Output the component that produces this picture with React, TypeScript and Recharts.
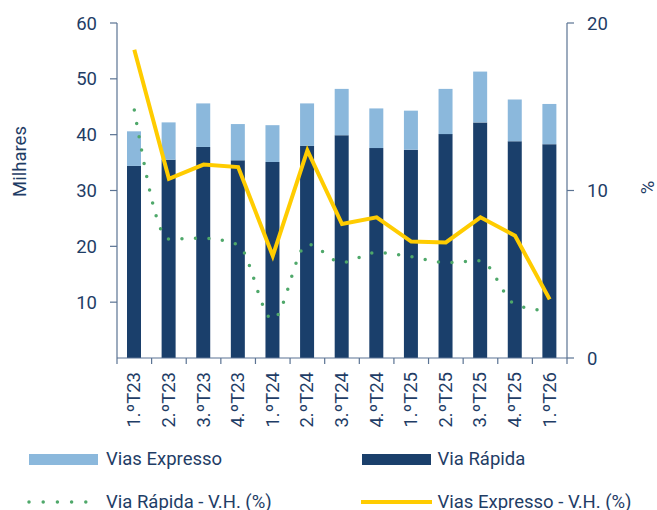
import React from 'react';
import { ComposedChart, Bar, Line, XAxis, YAxis } from 'recharts';

const quarters = ['1.ºT23', '2.ºT23', '3.ºT23', '4.ºT23', '1.ºT24', '2.ºT24', '3.ºT24', '4.ºT24', '1.ºT25', '2.ºT25', '3.ºT25', '4.ºT25', '1.ºT26'];
// milhares
const viaRapida = [34.4, 35.5, 37.8, 35.4, 35.1, 38.0, 39.9, 37.6, 37.3, 40.1, 42.2, 38.8, 38.3];
const viasExpresso = [6.2, 6.7, 7.8, 6.5, 6.6, 7.6, 8.3, 7.1, 7.0, 8.1, 9.1, 7.5, 7.2];
// variação homóloga (%)
const viaRapidaVH = [14.8, 7.1, 7.15, 6.75, 2.3, 6.8, 5.7, 6.3, 6.05, 5.7, 5.8, 3.2, 2.8];
const viasExpressoVH = [18.4, 10.7, 11.55, 11.4, 6.1, 12.4, 8.0, 8.4, 6.95, 6.9, 8.4, 7.3, 3.5];

const leftTicks = [10, 20, 30, 40, 50, 60];
const rightTicks = [0, 10, 20];

const data = quarters.map((q, i) => ({
  q,
  rapida: viaRapida[i],
  expresso: viasExpresso[i],
  rapidaVH: viaRapidaVH[i],
  expressoVH: viasExpressoVH[i],
}));

const TEXT = '#1f3d66';
const AXIS = '#5b7393';
const DARK = '#1a3f6b';
const LIGHT = '#8bb8dc';
const YELLOW = '#ffcc00';
const GREEN = '#4fa86a';
const FONT = 'Roboto, sans-serif';
const FS = 18.5;

const QuarterTick = (props: any) => {
  const { x, y, payload, index } = props;
  const half = payload.offset || 17.3;
  return (
    <g>
      <line x1={x - half} x2={x - half} y1={y} y2={y + 6} stroke={AXIS} strokeWidth={1.2} />
      {index === quarters.length - 1 && (
        <line x1={x + half} x2={x + half} y1={y} y2={y + 6} stroke={AXIS} strokeWidth={1.2} />
      )}
      <text
        x={x}
        y={y + 14}
        transform={`rotate(-90, ${x}, ${y + 14})`}
        textAnchor="end"
        dominantBaseline="central"
        fill={TEXT}
        fontSize={FS}
        fontFamily={FONT}
      >
        {payload.value}
      </text>
    </g>
  );
};

const Swatch = ({ kind, color }: { kind: string; color: string }) => {
  if (kind === 'bar') return <div style={{ width: 69, height: 11, background: color }} />;
  return (
    <svg width={71} height={12}>
      {kind === 'dots' ? (
        <line x1={2} x2={62} y1={6} y2={6} stroke={color} strokeWidth={3.5} strokeDasharray="0 14.2" strokeLinecap="round" />
      ) : (
        <line x1={0} x2={71} y1={6} y2={6} stroke={color} strokeWidth={4} />
      )}
    </svg>
  );
};

const legendItems = [
  { label: 'Vias Expresso', kind: 'bar', color: LIGHT, left: 29, top: 459, gap: 8 },
  { label: 'Via Rápida', kind: 'bar', color: DARK, left: 362, top: 459, gap: 6.5 },
  { label: 'Via Rápida - V.H. (%)', kind: 'dots', color: GREEN, left: 27, top: 501.5, gap: 8 },
  { label: 'Vias Expresso - V.H. (%)', kind: 'line', color: YELLOW, left: 361, top: 501.5, gap: 5.5 },
];

export default function App() {
  return (
    <div style={{ position: 'absolute', left: 0, top: 0, width: 657, height: 510, background: '#fff', fontFamily: FONT }}>
      <ComposedChart width={657} height={440} data={data} margin={{ top: 23, right: 0, bottom: 0, left: 0 }} barSize={14}>
        <XAxis
          dataKey="q"
          height={82}
          interval={0}
          tickLine={false}
          tickSize={0}
          tickMargin={0}
          tick={<QuarterTick />}
          axisLine={{ stroke: AXIS, strokeWidth: 1.2 }}
        />
        <YAxis
          yAxisId="left"
          width={117}
          domain={[0, 60]}
          ticks={leftTicks}
          tickSize={7}
          tickMargin={13}
          tick={{ fill: TEXT, fontSize: FS, fontFamily: FONT }}
          tickLine={{ stroke: AXIS, strokeWidth: 1.2 }}
          axisLine={{ stroke: AXIS, strokeWidth: 1.2 }}
          label={{
            content: (p: any) => {
              const vb = p.viewBox;
              const cx = vb.x + 19.5;
              const cy = vb.y + vb.height / 2 - 29;
              return (
                <text x={cx} y={cy} transform={`rotate(-90, ${cx}, ${cy})`} textAnchor="middle" dominantBaseline="central" fill={TEXT} fontSize={FS} fontFamily={FONT}>
                  Milhares
                </text>
              );
            },
          }}
        />
        <YAxis
          yAxisId="right"
          orientation="right"
          width={90}
          domain={[0, 20]}
          ticks={rightTicks}
          tickSize={7}
          tickMargin={13}
          tick={{ fill: TEXT, fontSize: FS, fontFamily: FONT, textAnchor: 'start' }}
          tickLine={{ stroke: AXIS, strokeWidth: 1.2 }}
          axisLine={{ stroke: AXIS, strokeWidth: 1.2 }}
          label={{
            content: (p: any) => {
              const vb = p.viewBox;
              const cx = vb.x + 81;
              const cy = vb.y + vb.height / 2 - 3;
              return (
                <text x={cx} y={cy} transform={`rotate(-90, ${cx}, ${cy})`} textAnchor="middle" dominantBaseline="central" fill={TEXT} fontSize={FS} fontFamily={FONT}>
                  %
                </text>
              );
            },
          }}
        />
        <Bar yAxisId="left" dataKey="rapida" stackId="a" fill={DARK} isAnimationActive={false} />
        <Bar yAxisId="left" dataKey="expresso" stackId="a" fill={LIGHT} isAnimationActive={false} />
        <Line
          yAxisId="right"
          type="monotone"
          dataKey="rapidaVH"
          stroke={GREEN}
          strokeWidth={3.5}
          strokeDasharray="0 13.5"
          strokeLinecap="round"
          dot={false}
          activeDot={false}
          isAnimationActive={false}
        />
        <Line
          yAxisId="right"
          type="linear"
          dataKey="expressoVH"
          stroke={YELLOW}
          strokeWidth={4}
          dot={false}
          activeDot={false}
          isAnimationActive={false}
        />
      </ComposedChart>
      {legendItems.map((it) => (
        <div
          key={it.label}
          style={{ position: 'absolute', left: it.left, top: it.top - 12, height: 24, display: 'flex', alignItems: 'center', gap: it.gap, color: TEXT, fontSize: FS }}
        >
          <Swatch kind={it.kind} color={it.color} />
          <span>{it.label}</span>
        </div>
      ))}
    </div>
  );
}
